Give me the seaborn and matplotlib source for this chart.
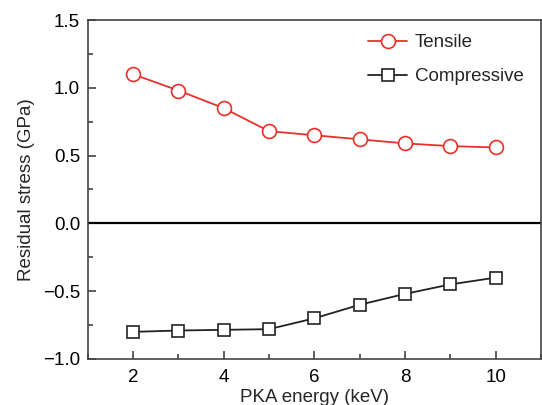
import matplotlib
matplotlib.use("Agg")
import matplotlib.pyplot as plt
from matplotlib.ticker import MultipleLocator
import seaborn as sns
import pandas as pd

energy = [2, 3, 4, 5, 6, 7, 8, 9, 10]
tensile = [1.10, 0.98, 0.85, 0.68, 0.65, 0.62, 0.59, 0.57, 0.56]
compressive = [-0.80, -0.79, -0.785, -0.78, -0.70, -0.60, -0.52, -0.45, -0.40]

df = pd.DataFrame({"energy": energy, "Tensile": tensile, "Compressive": compressive})

sns.set_theme(style="ticks")
plt.rcParams["font.family"] = ["Liberation Sans", "DejaVu Sans"]

fig = plt.figure(figsize=(5.42, 4.05), dpi=100)
ax = fig.add_axes([0.162, 0.1136, 0.836, 0.837])

sns.lineplot(data=df, x="energy", y="Tensile", ax=ax, color="#e8302a", lw=1.3,
             marker="o", markersize=10, markerfacecolor="white",
             markeredgecolor="#e8302a", markeredgewidth=1.2, label="Tensile")
sns.lineplot(data=df, x="energy", y="Compressive", ax=ax, color="#222222", lw=1.3,
             marker="s", markersize=9, markerfacecolor="white",
             markeredgecolor="#222222", markeredgewidth=1.2, label="Compressive")

ax.axhline(0, color="black", lw=1.6, zorder=1)

ax.set_xlim(1, 11)
ax.set_ylim(-1.0, 1.5)
ax.xaxis.set_major_locator(MultipleLocator(2))
ax.xaxis.set_minor_locator(MultipleLocator(1))
ax.yaxis.set_major_locator(MultipleLocator(0.5))
ax.yaxis.set_minor_locator(MultipleLocator(0.25))
ax.tick_params(which="both", direction="in", colors="#333333", labelcolor="black", labelsize=13.5)
ax.tick_params(which="major", length=6, width=1.1)
ax.tick_params(which="minor", length=3.5, width=1.1)
ax.tick_params(axis="x", which="major", pad=7)
ax.tick_params(axis="y", which="major", pad=5.5)
ax.set_xticks([2, 4, 6, 8, 10])
ax.set_xticklabels(["2", "4", "6", "8", "10"])
ax.set_yticks([-1.0, -0.5, 0.0, 0.5, 1.0, 1.5])
ax.set_yticklabels(["\u22121.0", "\u22120.5", "0.0", "0.5", "1.0", "1.5"])
for s in ax.spines.values():
    s.set_color("#444444")
    s.set_linewidth(1.2)

ax.set_xlabel("PKA energy (keV)", fontsize=13.5, labelpad=2.5)
ax.set_ylabel("Residual stress (GPa)", fontsize=13.5, labelpad=6)

ax.legend(loc="upper right", bbox_to_anchor=(0.999, 1.008), frameon=False,
          fontsize=13.5, handlelength=2.1, labelspacing=0.9, handletextpad=0.4)

fig.savefig("out.png", dpi=100)
